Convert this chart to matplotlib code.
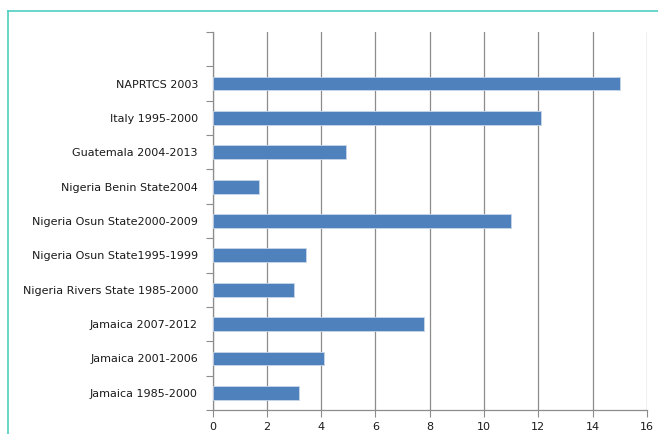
#!/usr/bin/env python3

from matplotlib import pyplot as plt
from matplotlib.lines import Line2D

# bottom to top, as drawn on the y axis
studies = ['Jamaica 1985-2000', 'Jamaica 2001-2006', 'Jamaica 2007-2012',
           'Nigeria Rivers State 1985-2000', 'Nigeria Osun State1995-1999',
           'Nigeria Osun State2000-2009', 'Nigeria Benin State2004',
           'Guatemala 2004-2013', 'Italy 1995-2000', 'NAPRTCS 2003']
values = [3.2, 4.1, 7.8, 3.0, 3.45, 11.0, 1.7, 4.9, 12.1, 15.0]
x_ticks = [0, 2, 4, 6, 8, 10, 12, 14, 16]

BAR = '#4f81bd'
GRID = '#8c8c8c'
TEXT = '#1a1a1a'

fig = plt.figure(figsize=(6.58, 4.34), dpi=100)
ax = fig.add_axes([212.5 / 658, 1 - 410 / 434, (647 - 212.5) / 658, (410 - 32) / 434])

pos = list(range(len(studies)))
ax.barh(pos, values, height=0.4, color=BAR, edgecolor='#c9d7ea', linewidth=0.6, zorder=3)

ax.set_xlim(0, 16)
ax.set_ylim(-0.5, len(studies) + 0.5)
ax.set_xticks(x_ticks)
ax.set_xticklabels([str(t) for t in x_ticks], fontsize=8, color=TEXT)

# category separators as major ticks, labels on minor ticks
ax.set_yticks([p - 0.5 for p in range(len(studies) + 2)])
ax.set_yticklabels([])
ax.set_yticks(pos, minor=True)
ax.set_yticklabels(studies, minor=True, fontsize=8, color=TEXT)
ax.tick_params(axis='y', which='major', length=5, color=GRID, width=0.8)
ax.tick_params(axis='y', which='minor', length=0, pad=10.5)
ax.tick_params(axis='x', length=5, color=GRID, width=0.8, pad=4)

ax.grid(axis='x', color=GRID, linewidth=0.9, zorder=0)
for side in ['top', 'right']:
    ax.spines[side].set_visible(False)
for side in ['left', 'bottom']:
    ax.spines[side].set_color(GRID)
    ax.spines[side].set_linewidth(0.9)

# teal frame around the chart
teal = '#4dd0c0'
fig.add_artist(Line2D([8 / 658, 1], [1 - 10.5 / 434, 1 - 10.5 / 434], color=teal, linewidth=1.2))
fig.add_artist(Line2D([8 / 658, 8 / 658], [0, 1 - 10.5 / 434], color=teal, linewidth=1.2))

fig.savefig('out.png', dpi=100)
